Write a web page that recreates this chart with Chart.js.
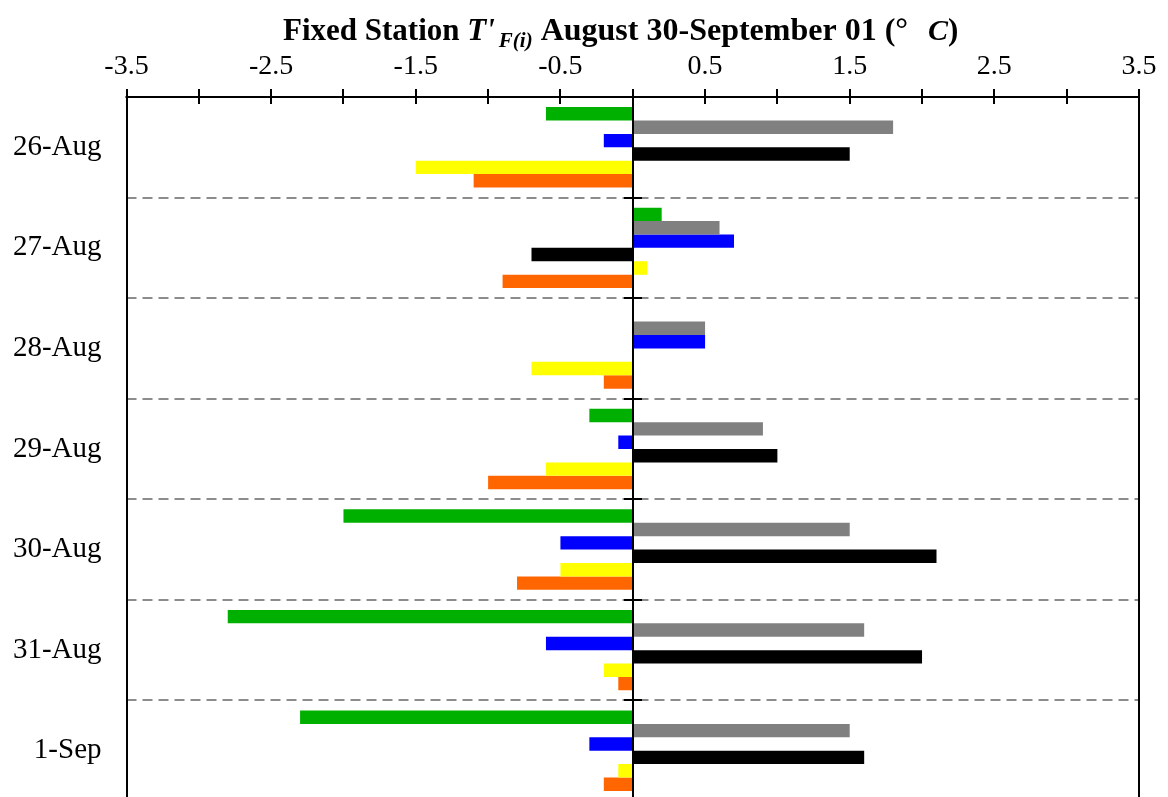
<!DOCTYPE html>
<html>
<head>
<meta charset="utf-8">
<script src="https://cdn.jsdelivr.net/npm/chart.js@4.4.1/dist/chart.umd.min.js"></script>
<style>
  html, body { margin: 0; padding: 0; background: #fff; overflow: hidden; }
  canvas { display: block; }
</style>
</head>
<body>
<canvas id="chart" width="1168" height="802"></canvas>
<script>
// Daily temperature anomaly at the fixed station (°C), one value per day for each series
const days = ['26-Aug', '27-Aug', '28-Aug', '29-Aug', '30-Aug', '31-Aug', '1-Sep'];
const series1 = [-0.6, 0.2, 0.0, -0.3, -2.0, -2.8, -2.3];
const series2 = [1.8, 0.6, 0.5, 0.9, 1.5, 1.6, 1.5];
const series3 = [-0.2, 0.7, 0.5, -0.1, -0.5, -0.6, -0.3];
const series4 = [1.5, -0.7, 0.0, 1.0, 2.1, 2.0, 1.6];
const series5 = [-1.5, 0.1, -0.7, -0.6, -0.5, -0.2, -0.1];
const series6 = [-1.1, -0.9, -0.2, -1.0, -0.8, -0.1, -0.2];

const xTickLabels = ['-3.5', '-2.5', '-1.5', '-0.5', '0.5', '1.5', '2.5', '3.5'];
const xMin = -3.5;
const xMax = 3.5;
const xStep = 0.5;

const seriesColors = ['#00b000', '#808080', '#0000ff', '#000000', '#ffff00', '#ff6600'];
const seriesData = [series1, series2, series3, series4, series5, series6];

const FONT = '"Liberation Serif", "Times New Roman", serif';

// Title with italic symbol and subscript
const titleParts = [
  { text: 'Fixed Station ', style: 'bold', size: 31, dy: 0, gap: 0 },
  { text: "T'", style: 'italic bold', size: 31, dy: 0, gap: 0 },
  { text: 'F(i)', style: 'italic bold', size: 21, dy: 7, gap: 4 },
  { text: ' August 30-September 01 (°', style: 'bold', size: 32, dy: 0, gap: 0 },
  { text: 'C', style: 'italic bold', size: 30, dy: 0, gap: 20 },
  { text: ')', style: 'bold', size: 31, dy: 0, gap: 0 }
];

const framePlugin = {
  id: 'frame',
  beforeDatasetsDraw(chart) {
    const { ctx, chartArea: a, scales: { y } } = chart;
    ctx.save();
    ctx.strokeStyle = '#8c8c8c';
    ctx.lineWidth = 2;
    ctx.setLineDash([10, 6]);
    for (let i = 0; i < days.length - 1; i++) {
      const py = Math.round((y.getPixelForValue(i) + y.getPixelForValue(i + 1)) / 2);
      ctx.beginPath();
      ctx.moveTo(a.left, py);
      ctx.lineTo(a.right, py);
      ctx.stroke();
    }
    ctx.restore();
  },
  afterDatasetsDraw(chart) {
    const { ctx, chartArea: a, scales: { x, y } } = chart;
    ctx.save();
    ctx.strokeStyle = '#000';
    ctx.lineWidth = 2;
    ctx.setLineDash([]);
    const top = Math.round(a.top);
    // top axis line
    ctx.beginPath();
    ctx.moveTo(a.left - 1, top);
    ctx.lineTo(a.right + 1, top);
    ctx.stroke();
    // tick marks across the top axis
    for (let v = xMin; v <= xMax + 1e-9; v += xStep) {
      const px = Math.round(x.getPixelForValue(v));
      ctx.beginPath();
      ctx.moveTo(px, top - 8);
      ctx.lineTo(px, top + 7);
      ctx.stroke();
    }
    // left and right frame
    [a.left, a.right].forEach(px => {
      ctx.beginPath();
      ctx.moveTo(Math.round(px), top - 8);
      ctx.lineTo(Math.round(px), chart.height);
      ctx.stroke();
    });
    // zero line with short marks at day boundaries
    const zx = Math.round(x.getPixelForValue(0));
    ctx.beginPath();
    ctx.moveTo(zx, top);
    ctx.lineTo(zx, chart.height);
    ctx.stroke();
    for (let i = 0; i < days.length - 1; i++) {
      const py = Math.round((y.getPixelForValue(i) + y.getPixelForValue(i + 1)) / 2);
      ctx.beginPath();
      ctx.moveTo(zx - 9, py);
      ctx.lineTo(zx + 9, py);
      ctx.stroke();
    }
    ctx.restore();
  },
  afterDraw(chart) {
    const { ctx } = chart;
    ctx.save();
    ctx.fillStyle = '#000';
    ctx.textBaseline = 'alphabetic';
    ctx.textAlign = 'left';
    let cx = 283;
    const baseY = 40;
    titleParts.forEach(p => {
      cx += p.gap;
      ctx.font = `${p.style} ${p.size}px ${FONT}`;
      ctx.fillText(p.text, cx, baseY + p.dy);
      cx += ctx.measureText(p.text).width;
    });
    ctx.restore();
  }
};

const noEdgePadding = (s) => {
  s.paddingTop = 0;
  s.paddingBottom = 0;
  s.paddingLeft = 0;
  s.paddingRight = 0;
};

new Chart(document.getElementById('chart'), {
  type: 'bar',
  data: {
    labels: days,
    datasets: seriesData.map((d, i) => ({
      label: 'Series ' + (i + 1),
      data: d,
      backgroundColor: seriesColors[i],
      borderWidth: 0,
      barPercentage: 1.0,
      categoryPercentage: 0.8
    }))
  },
  options: {
    indexAxis: 'y',
    responsive: false,
    animation: false,
    events: [],
    layout: { padding: { left: 0, right: 29, top: 0, bottom: 1 } },
    plugins: {
      legend: { display: false },
      title: { display: false },
      tooltip: { enabled: false }
    },
    scales: {
      x: {
        type: 'linear',
        position: 'top',
        min: xMin,
        max: xMax,
        grid: { display: false, drawTicks: false },
        border: { display: false },
        ticks: {
          stepSize: xStep,
          autoSkip: false,
          maxRotation: 0,
          padding: 14,
          color: '#000',
          font: { family: FONT, size: 28 },
          callback: (v) => {
            const s = Number(v).toFixed(1);
            return xTickLabels.includes(s) ? s : '';
          }
        },
        afterFit: (s) => { noEdgePadding(s); s.height = 97; }
      },
      y: {
        type: 'category',
        position: 'left',
        offset: true,
        grid: { display: false, drawTicks: false },
        border: { display: false },
        ticks: {
          padding: 25,
          color: '#000',
          font: { family: FONT, size: 29 }
        },
        afterFit: (s) => { noEdgePadding(s); s.width = 126.5; }
      }
    }
  },
  plugins: [framePlugin]
});
</script>
</body>
</html>
